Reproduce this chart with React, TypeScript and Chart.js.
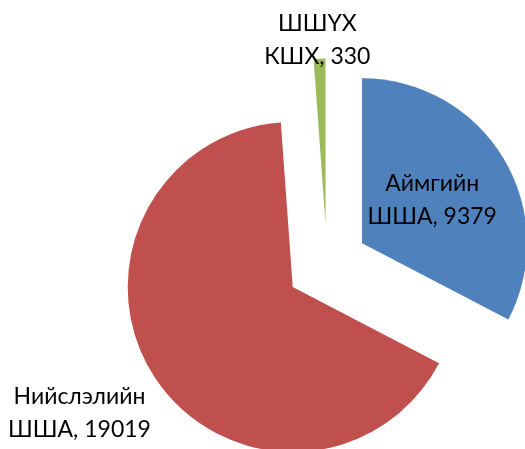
import React, { useEffect, useRef } from "react";
import { Chart, registerables } from "chart.js";

Chart.register(...registerables);

// Data
const categories = ["Аймгийн ШША", "Нийслэлийн ШША", "ШШҮХ КШХ"];
const values = [9379, 19019, 330];

// Styles
const colors = ["#4F81BD", "#C0504D", "#9BBB59"];
const EXPLODE = 41; // px each slice is pulled out along its bisector
const PIE_RADIUS = 165;
const labelDistance = [0.5, 1.5, 1.11]; // label centre, as fraction of radius from slice vertex
const labelAngleShift = [-0.6, 2.8, -0.5]; // degrees from bisector
const FONT = "23px Lato, 'Open Sans', sans-serif";
const LINE_GAP = 33;

const explodePlugin = {
  id: "explodeLabels",
  beforeDatasetDraw(chart: any, args: any) {
    const meta = chart.getDatasetMeta(args.index);
    const ctx = chart.ctx;
    meta.data.forEach((arc: any) => {
      const mid = (arc.startAngle + arc.endAngle) / 2;
      ctx.save();
      ctx.translate(Math.cos(mid) * EXPLODE, Math.sin(mid) * EXPLODE);
      arc.draw(ctx);
      ctx.restore();
    });
    return false;
  },
  afterDatasetsDraw(chart: any) {
    const meta = chart.getDatasetMeta(0);
    const ctx = chart.ctx;
    ctx.save();
    ctx.font = FONT;
    ctx.fillStyle = "#000000";
    ctx.textAlign = "center";
    ctx.textBaseline = "middle";
    meta.data.forEach((arc: any, i: number) => {
      const mid = (arc.startAngle + arc.endAngle) / 2;
      const vx = arc.x + Math.cos(mid) * EXPLODE;
      const vy = arc.y + Math.sin(mid) * EXPLODE;
      const a = mid + (labelAngleShift[i] * Math.PI) / 180;
      const d = arc.outerRadius * labelDistance[i];
      const cx = vx + Math.cos(a) * d;
      const cy = vy + Math.sin(a) * d;
      const name = categories[i];
      const sp = name.indexOf(" ");
      const lines = [name.slice(0, sp), name.slice(sp + 1) + ", " + values[i]];
      lines.forEach((ln, k) => {
        ctx.fillText(ln, cx, cy + (k - (lines.length - 1) / 2) * LINE_GAP);
      });
    });
    ctx.restore();
  },
};

export default function App() {
  const ref = useRef<HTMLCanvasElement | null>(null);
  useEffect(() => {
    if (!ref.current) return;
    const chart = new Chart(ref.current, {
      type: "pie",
      data: {
        labels: categories,
        datasets: [
          {
            data: values,
            backgroundColor: colors,
            borderWidth: 0,
            radius: PIE_RADIUS,
          } as any,
        ],
      },
      options: {
        responsive: false,
        animation: false,
        layout: { padding: { left: 129, top: 80, right: 0, bottom: 0 } },
        plugins: {
          legend: { display: false },
          tooltip: { enabled: false },
        },
      },
      plugins: [explodePlugin],
    });
    return () => chart.destroy();
  }, []);
  return (
    <div style={{ position: "absolute", left: 0, top: 0, width: 525, height: 449, background: "#fff" }}>
      <canvas ref={ref} width={525} height={449} style={{ width: 525, height: 449 }} />
    </div>
  );
}
